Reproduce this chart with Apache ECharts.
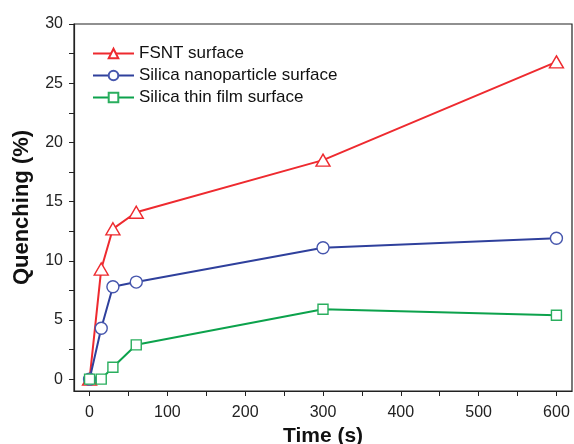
<!DOCTYPE html>
<html><head><meta charset="utf-8">
<script src="https://cdn.jsdelivr.net/npm/echarts@6/dist/echarts.min.js"></script>
<style>html,body{margin:0;padding:0;background:#fff}#c{width:574px;height:444px}</style>
</head><body><div id="c"></div>
<script>
const times = [0, 15, 30, 60, 300, 600];
const fsnt = [0, 9.3, 12.7, 14.1, 18.5, 26.8];
const nanoparticle = [0, 4.3, 7.8, 8.2, 11.1, 11.9];
const thinFilm = [0, 0, 1.0, 2.9, 5.9, 5.4];
const seriesNames = ['FSNT surface', 'Silica nanoparticle surface', 'Silica thin film surface'];
const xTickLabels = [0, 100, 200, 300, 400, 500, 600];
const xTicks = [0, 50, 100, 150, 200, 250, 300, 350, 400, 450, 500, 550, 600];
const yTickLabels = [0, 5, 10, 15, 20, 25, 30];
const yTicks = [0, 2.5, 5, 7.5, 10, 12.5, 15, 17.5, 20, 22.5, 25, 27.5, 30];

const pair = arr => times.map((t, i) => [t, arr[i]]);
const font = '"Liberation Sans", Arial, sans-serif';
const chart = echarts.init(document.getElementById('c'), null, {renderer: 'canvas'});
function mk(name, data, color, stroke, symbol, size) {
  return {
    name, type: 'line', data: pair(data), symbol, symbolSize: size,
    lineStyle: {color, width: 2}, itemStyle: {color: '#fff', borderColor: stroke, borderWidth: 1.4},
    color, showAllSymbol: true, animation: false, z: 3
  };
}
chart.setOption({
  animation: false,
  grid: {left: 74, top: 24, right: 2, bottom: 53, outerBoundsMode: 'none', containLabel: false,
    show: true, borderColor: '#222', borderWidth: 1.2, backgroundColor: 'transparent'},
  legend: {
    orient: 'vertical', left: 87, top: 40, itemGap: 5, itemWidth: 41, itemHeight: 12,
    textStyle: {fontFamily: font, fontSize: 17, color: '#111'},
    data: seriesNames
  },
  xAxis: {
    type: 'value', min: -20, max: 620,
    name: 'Time (s)', nameLocation: 'middle', nameGap: 33,
    nameTextStyle: {fontFamily: font, fontSize: 21, fontWeight: 'bold', color: '#111'},
    axisLine: {show: true, onZero: false, lineStyle: {color: '#222', width: 1.2}},
    axisTick: {show: true, inside: false, length: 5, customValues: xTicks, lineStyle: {color: '#222'}},
    splitLine: {show: false},
    axisLabel: {fontFamily: font, fontSize: 16, color: '#222', margin: 14, customValues: xTickLabels}
  },
  yAxis: {
    type: 'value', min: -1, max: 30,
    name: 'Quenching (%)', nameLocation: 'middle', nameGap: 41,
    nameTextStyle: {fontFamily: font, fontSize: 22, fontWeight: 'bold', color: '#111'},
    axisLine: {show: true, onZero: false, lineStyle: {color: '#222', width: 1.2}},
    axisTick: {show: true, inside: false, length: 5, customValues: yTicks, lineStyle: {color: '#222'}},
    splitLine: {show: false},
    axisLabel: {fontFamily: font, fontSize: 16, color: '#222', margin: 11, customValues: yTickLabels}
  },
  series: [
    mk(seriesNames[0], fsnt, '#ee2a2f', '#ee2a2f', 'triangle', [14, 12]),
    mk(seriesNames[1], nanoparticle, '#2f409c', '#4656ad', 'circle', 12),
    mk(seriesNames[2], thinFilm, '#0ca24c', '#2aae5e', 'rect', 10)
  ]
});
</script></body></html>
